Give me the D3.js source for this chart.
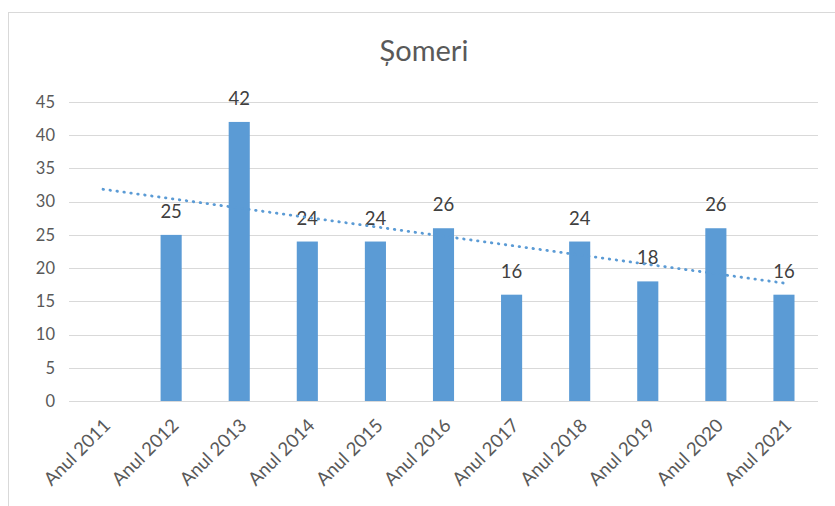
<!DOCTYPE html>
<html>
<head>
<meta charset="utf-8">
<script src="https://cdn.jsdelivr.net/npm/d3@7"></script>
<style>
  body { margin: 0; background: #fff; }
  svg { display: block; }
</style>
</head>
<body>
<div id="chart"></div>
<script>
const title = 'Șomeri';
const categories = ['Anul 2011', 'Anul 2012', 'Anul 2013', 'Anul 2014', 'Anul 2015', 'Anul 2016',
  'Anul 2017', 'Anul 2018', 'Anul 2019', 'Anul 2020', 'Anul 2021'];
const values = [null, 25, 42, 24, 24, 26, 16, 24, 18, 26, 16];
const yTicks = [0, 5, 10, 15, 20, 25, 30, 35, 40, 45];

const width = 835, height = 506;
const margin = {top: 102, right: 17, bottom: 105, left: 69};
const font = 'Lato, "Open Sans", sans-serif';
const barColor = '#5b9bd5';

const svg = d3.select('#chart').append('svg')
  .attr('width', width)
  .attr('height', height)
  .style('font-family', font);

// chart area border
svg.append('rect')
  .attr('x', 8.5).attr('y', 12.5)
  .attr('width', 900).attr('height', 600)
  .attr('fill', 'none')
  .attr('stroke', '#d9d9d9');

svg.append('text')
  .attr('x', 424).attr('y', 61)
  .attr('text-anchor', 'middle')
  .style('font-size', '29px')
  .style('fill', '#595959')
  .text(title);

const x = d3.scaleBand()
  .domain(categories)
  .range([margin.left, width - margin.right])
  .paddingInner(0.69)
  .paddingOuter(0.345);

const y = d3.scaleLinear()
  .domain([0, 45])
  .range([height - margin.bottom, margin.top]);

// gridlines
svg.append('g')
  .selectAll('line')
  .data(yTicks)
  .join('line')
    .attr('x1', margin.left)
    .attr('x2', width - margin.right)
    .attr('y1', d => Math.round(y(d)) + 0.5)
    .attr('y2', d => Math.round(y(d)) + 0.5)
    .attr('stroke', '#d9d9d9')
    .attr('stroke-width', 1.2);

// y axis labels
const yAxis = svg.append('g')
  .attr('transform', `translate(${margin.left - 14},0)`)
  .call(d3.axisLeft(y).tickValues(yTicks).tickSize(0).tickPadding(0));
yAxis.select('.domain').remove();
yAxis.selectAll('text')
  .style('font-family', font)
  .style('font-size', '16.5px')
  .style('fill', '#595959');

// bars
const bars = categories.map((c, i) => ({cat: c, v: values[i]})).filter(d => d.v !== null);

svg.append('g')
  .selectAll('rect')
  .data(bars)
  .join('rect')
    .attr('x', d => x(d.cat))
    .attr('y', d => y(d.v))
    .attr('width', x.bandwidth())
    .attr('height', d => y(0) - y(d.v))
    .attr('fill', barColor);

// data labels
svg.append('g')
  .selectAll('text')
  .data(bars)
  .join('text')
    .attr('x', d => x(d.cat) + x.bandwidth() / 2)
    .attr('y', d => y(d.v) - 17)
    .attr('text-anchor', 'middle')
    .style('font-size', '18.5px')
    .style('fill', '#404040')
    .text(d => d.v);

// linear trendline (least squares over the points that have a value)
const pts = values.map((v, i) => [i + 1, v]).filter(p => p[1] !== null);
const mx = d3.mean(pts, p => p[0]), my = d3.mean(pts, p => p[1]);
const slope = d3.sum(pts, p => (p[0] - mx) * (p[1] - my)) / d3.sum(pts, p => (p[0] - mx) ** 2);
const trend = categories.map((c, i) => ({cat: c, v: my + slope * (i + 1 - mx)}));
const ends = [trend[0], trend[trend.length - 1]];

svg.append('path')
  .datum(ends)
  .attr('d', d3.line()
    .x(d => x(d.cat) + x.bandwidth() / 2)
    .y(d => y(d.v)))
  .attr('fill', 'none')
  .attr('stroke', barColor)
  .attr('stroke-width', 2.8)
  .attr('stroke-linecap', 'round')
  .attr('stroke-dasharray', '0.5 6.5');

// x axis labels, rotated
svg.append('g')
  .selectAll('text')
  .data(categories)
  .join('text')
    .attr('transform', d => `translate(${x(d) + x.bandwidth() / 2 + 4},${y(0) + 21}) rotate(-45)`)
    .attr('text-anchor', 'end')
    .attr('dy', '0.35em')
    .style('font-size', '18.5px')
    .style('fill', '#595959')
    .text(d => d);
</script>
</body>
</html>
